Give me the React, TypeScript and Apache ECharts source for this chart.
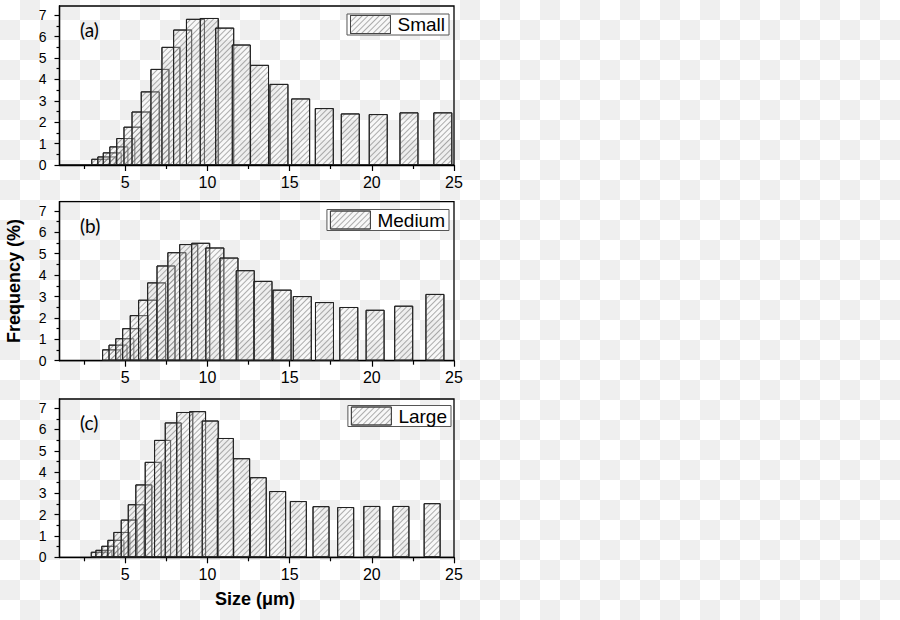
import { useEffect, useRef } from "react";
import * as echarts from "echarts";

// ---- data ----
const seriesNames = ["Small", "Medium", "Large"];
const panelLabels = ["(a)", "(b)", "(c)"];

const sizesSmall = [3.51, 3.88, 4.21, 4.61, 5.03, 5.47, 5.96, 6.52, 7.11, 7.78, 8.49, 9.27, 10.11, 11.05, 12.06, 13.17, 14.35, 15.67, 17.11, 18.69, 20.39, 22.26, 24.32];
const freqSmall = [0.29, 0.4, 0.59, 0.87, 1.26, 1.79, 2.5, 3.44, 4.49, 5.52, 6.33, 6.83, 6.87, 6.42, 5.63, 4.68, 3.79, 3.11, 2.66, 2.41, 2.38, 2.46, 2.46];

const sizesMedium = [4.17, 4.56, 4.97, 5.39, 5.85, 6.36, 6.91, 7.48, 8.14, 8.86, 9.59, 10.45, 11.31, 12.3, 13.38, 14.54, 15.77, 17.12, 18.6, 20.2, 21.94, 23.84];
const freqMedium = [0.53, 0.75, 1.05, 1.52, 2.13, 2.85, 3.66, 4.45, 5.07, 5.45, 5.51, 5.29, 4.82, 4.23, 3.73, 3.32, 3.02, 2.74, 2.51, 2.38, 2.57, 3.12];

const sizesLarge = [3.42, 3.7, 4.06, 4.43, 4.79, 5.24, 5.67, 6.13, 6.7, 7.27, 7.92, 8.62, 9.4, 10.17, 11.09, 12.08, 13.09, 14.27, 15.53, 16.91, 18.41, 20.0, 21.77, 23.67];
const freqLarge = [0.26, 0.35, 0.54, 0.82, 1.19, 1.77, 2.49, 3.42, 4.48, 5.51, 6.33, 6.82, 6.86, 6.42, 5.6, 4.65, 3.76, 3.11, 2.64, 2.4, 2.36, 2.41, 2.41, 2.54];

const xMajorTicks = [5, 10, 15, 20, 25];
const xMinorTicks = [2.5, 7.5, 12.5, 17.5, 22.5];
const yMajorTicks = [0, 1, 2, 3, 4, 5, 6, 7];
const yMinorTicks = [0.5, 1.5, 2.5, 3.5, 4.5, 5.5, 6.5];
const xRange = [1, 25];
const yRange = [0, 7.43];

const xAxisTitle = "Size (μm)";
const yAxisTitle = "Frequency (%)";

// ---- layout ----
const gridTops = [6, 201.7, 399];
const gridHeights = [159, 159, 158.3];
const gridLeft = 59.5;
const gridRight = 446;
const barWidths = [19, 19, 17];
const legendRight = [451, 451, 449];
const legendTops = [14, 209.5, 405.5];

export default function App() {
  const ref = useRef<HTMLDivElement>(null);
  useEffect(() => {
    if (!ref.current) return;
    const chart = echarts.init(ref.current, null, { renderer: "svg" });
    const sizes = [sizesSmall, sizesMedium, sizesLarge];
    const freqs = [freqSmall, freqMedium, freqLarge];
    const font = "'Liberation Sans', Arial, sans-serif";

    const grids: any[] = [];
    const xAxes: any[] = [];
    const yAxes: any[] = [];
    const series: any[] = [];
    const legends: any[] = [];
    const graphics: any[] = [];

    for (let i = 0; i < 3; i++) {
      grids.push({
        left: gridLeft,
        right: gridRight,
        top: gridTops[i],
        height: gridHeights[i],
        show: true,
        borderColor: "#000",
        borderWidth: 1.3,
        backgroundColor: "transparent",
      });
      xAxes.push({
        gridIndex: i,
        type: "value",
        min: xRange[0],
        max: xRange[1],
        position: "bottom",
        axisLine: { show: true, onZero: false, lineStyle: { color: "#000", width: 1.3 } },
        axisTick: { show: true, customValues: xMajorTicks, length: 6, lineStyle: { color: "#000", width: 1.2 } },
        axisLabel: { customValues: xMajorTicks, margin: 9, fontSize: 16, color: "#000", fontFamily: font },
        splitLine: { show: false },
      });
      xAxes.push({
        gridIndex: i,
        type: "value",
        min: xRange[0],
        max: xRange[1],
        position: "bottom",
        axisLine: { show: false },
        axisTick: { show: true, customValues: xMinorTicks, length: 4, lineStyle: { color: "#000", width: 1.2 } },
        axisLabel: { show: false },
        splitLine: { show: false },
      });
      yAxes.push({
        gridIndex: i,
        type: "value",
        min: yRange[0],
        max: yRange[1],
        position: "left",
        axisLine: { show: true, onZero: false, lineStyle: { color: "#000", width: 1.3 } },
        axisTick: { show: true, customValues: yMajorTicks, length: 5, lineStyle: { color: "#000", width: 1.2 } },
        axisLabel: { customValues: yMajorTicks, margin: 13, fontSize: 14, color: "#000", fontFamily: font },
        splitLine: { show: false },
      });
      yAxes.push({
        gridIndex: i,
        type: "value",
        min: yRange[0],
        max: yRange[1],
        position: "left",
        axisLine: { show: false },
        axisTick: { show: true, customValues: yMinorTicks, length: 3, lineStyle: { color: "#000", width: 1.2 } },
        axisLabel: { show: false },
        splitLine: { show: false },
      });
      series.push({
        name: seriesNames[i],
        type: "bar",
        xAxisIndex: i * 2,
        yAxisIndex: i * 2,
        barWidth: barWidths[i],
        data: sizes[i].map((s, k) => [s, freqs[i][k]]),
        itemStyle: {
          color: "rgba(235,235,235,0.35)",
          borderColor: "#222",
          borderWidth: 1,
          decal: {
            symbol: "rect",
            symbolSize: 1,
            dashArrayX: [1, 0],
            dashArrayY: [1, 2.6],
            rotation: -Math.PI / 4,
            color: "rgba(80,80,80,0.45)",
          },
        },
        emphasis: { disabled: true },
      });
      legends.push({
        data: [seriesNames[i]],
        right: legendRight[i],
        top: legendTops[i],
        orient: "horizontal",
        icon: "rect",
        itemWidth: 40,
        itemHeight: 18,
        itemGap: 0,
        padding: [1, 4, 1, 3],
        borderColor: "#555",
        borderWidth: 1,
        backgroundColor: "rgba(255,255,255,0.85)",
        selectedMode: false,
        itemStyle: { borderColor: "#444", borderWidth: 1 },
        textStyle: { fontSize: 19, fontFamily: font, color: "#000", padding: [0, 0, 0, 2] },
      });
      graphics.push({
        type: "text",
        left: 80,
        top: gridTops[i] + 14,
        style: { text: panelLabels[i], fontSize: 19, fontFamily: "Lato, 'Open Sans', sans-serif", fill: "#000" },
      });
    }

    graphics.push({
      type: "text",
      x: 14,
      y: 281,
      rotation: Math.PI / 2,
      style: {
        text: yAxisTitle,
        fontSize: 18,
        fontWeight: "bold",
        fontFamily: font,
        fill: "#000",
        align: "center",
        verticalAlign: "middle",
      },
    });
    graphics.push({
      type: "text",
      x: 255,
      y: 599,
      style: {
        text: xAxisTitle,
        fontSize: 18,
        fontWeight: "bold",
        fontFamily: font,
        fill: "#000",
        align: "center",
        verticalAlign: "middle",
      },
    });

    chart.setOption({
      animation: false,
      backgroundColor: "transparent",
      grid: grids,
      xAxis: xAxes,
      yAxis: yAxes,
      legend: legends,
      series,
      graphic: graphics,
    });
    return () => chart.dispose();
  }, []);

  return (
    <div
      style={{
        position: "absolute",
        left: 0,
        top: 0,
        width: 900,
        height: 620,
        backgroundColor: "#fff",
        backgroundImage: "conic-gradient(#efefef 0 25%, #fff 0 50%, #efefef 0 75%, #fff 0)",
        backgroundSize: "40px 40px",
      }}
    >
      <div ref={ref} style={{ width: 900, height: 620 }} />
    </div>
  );
}
